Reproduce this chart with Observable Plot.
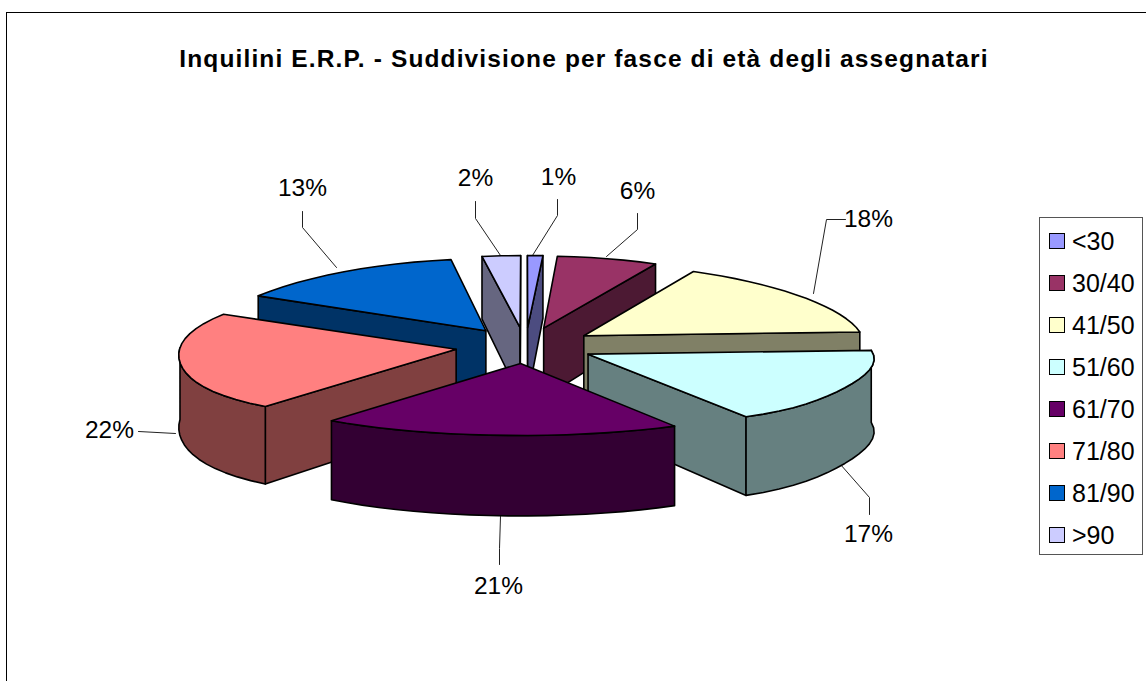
<!DOCTYPE html>
<html>
<head>
<meta charset="utf-8">
<script src="https://cdn.jsdelivr.net/npm/d3@7"></script>
<script src="https://cdn.jsdelivr.net/npm/@observablehq/plot@0.6"></script>
<style>
html,body{margin:0;padding:0;background:#fff;overflow:hidden}
#wrap{position:relative;width:1146px;height:681px;font-family:"Liberation Sans",Arial,sans-serif;color:#000}
#wrap svg{position:absolute;left:0;top:0}
#frame{position:absolute;left:6px;top:12px;width:1200px;height:800px;border:1.5px solid #000}
#title{position:absolute;left:0;top:43px;width:1168px;text-align:center;font-weight:bold;font-size:24.5px;letter-spacing:1.13px;line-height:32px;white-space:nowrap}
#legend{position:absolute;left:1039px;top:217px;width:102px;height:336px;border:1px solid #555;box-sizing:content-box}
.row{position:absolute;left:9px;height:24px;display:flex;align-items:center;font-size:25px;line-height:24px}
.sw{width:14px;height:14px;border:1.5px solid #000;margin-right:7px;flex:none}
</style>
</head>
<body>
<div id="wrap"><div id="frame"></div><div id="title"></div></div>
<script>
const titleText = "Inquilini E.R.P. - Suddivisione per fasce di età degli assegnatari";
const categories = ["<30","30/40","41/50","51/60","61/70","71/80","81/90",">90"];
const shares = [1,6,18,17,21,22,13,2];
const topColors = ["#9999FF","#993366","#FFFFCC","#CCFFFF","#660066","#FF8080","#0066CC","#CCCCFF"];
const wallColors = ["#4C4C80","#4C1933","#808066","#668080","#330033","#804040","#003366","#666680"];
const paintOrder = [7,0,1,6,2,5,3,4];

// label text position and leader route, per category
const labelX = [558,637,868,868,498,109,302,475];
const labelY = [177,191,219,534,586,430,188,178];
const leaders = [
  [[557,199],[557,215],[532,255]],
  [[637,213],[637,229],[606,256]],
  [[845,219],[826,219],[813,293]],
  [[869,514],[869,497],[840,464]],
  [[499,564],[499,548],[500,516]],
  [[138,431],[175,433]],
  [[302,211],[302,227],[336,267]],
  [[475,201],[475,218],[500,255]]
];

// 3-D projection of the exploded pie
const W = 1146, H = 681;
const cx = 525, cy = 345, R = 282, ry = 72, persp = 0.1, explode = 0.25, depth = 71.5;
const rad = d => d * Math.PI / 180;
// the reference's 3-D rendering bends the sweep of the slices slightly
const warp = d3.scaleLinear([0, 3.6, 25.2, 90, 151.2, 226.8, 306, 352.8, 360],
                            [0, 3.6, 27, 87, 150.5, 217.3, 299, 351, 360]);
// and its rim sags a little inside the two side slices
const sag = w => (w > 87 && w < 150.5) ? 0.03 * Math.sin(Math.PI * (w - 87) / 63.5) ** 2
               : (w > 217.3 && w < 299) ? 0.03 * Math.sin(Math.PI * (w - 217.3) / 81.7) ** 2 : 0;
const proj = (u, v, low) => {
  const k = 1 + persp * v;
  return {x: cx + u * R * k, y: cy + v * ry + (low ? depth * k : 0)};
};
const total = d3.sum(shares);
const cum = d3.cumsum(shares);
const slices = shares.map((s, i) => {
  const a0 = (cum[i] - s) / total * 360, a1 = cum[i] / total * 360, m = (a0 + a1) / 2;
  const wm = (warp(a0) + warp(a1)) / 2;
  const ox = explode * Math.sin(rad(wm)), oy = -explode * Math.cos(rad(wm));
  const pt = (a, r, low) => {
    const d = warp(a), w = rad(d), q = r * (1 - sag(d));
    return proj(ox + q * Math.sin(w), oy - q * Math.cos(w), low);
  };
  return {i, a0, a1, m, pt};
});
const polys = [];
let pid = 0;
const addPoly = (pts, fill) => { const id = pid++; pts.forEach(p => polys.push({id, x: p.x, y: p.y, fill})); polys.push({id, x: pts[0].x, y: pts[0].y, fill}); };
const arcAngles = (a0, a1) => { const n = Math.max(1, Math.ceil((a1 - a0) / 4)); return d3.range(n + 1).map(j => a0 + (a1 - a0) * j / n); };

for (const i of paintOrder) {
  const s = slices[i], top = topColors[i], wall = wallColors[i];
  const A = s.pt(0, 0), AL = s.pt(0, 0, true);
  const M = s.pt(s.m, 0.5);
  for (const a of [s.a0, s.a1]) {
    const P = s.pt(a, 1), PL = s.pt(a, 1, true);
    const ex = P.x - A.x, ey = P.y - A.y;
    const crossM = ex * (M.y - A.y) - ey * (M.x - A.x);
    const crossD = ex * 1;
    if (crossM * crossD < 0) addPoly([A, P, PL, AL], wall);
  }
  // outer wall: only the front half of the rim faces the viewer
  const lo = Math.max(s.a0, 90), hi = Math.min(s.a1, 279);
  if (lo < hi) {
    const as = arcAngles(lo, hi);
    addPoly([...as.map(a => s.pt(a, 1)), ...as.slice().reverse().map(a => s.pt(a, 1, true))], wall);
  }
  addPoly([A, ...arcAngles(s.a0, s.a1).map(a => s.pt(a, 1))], top);
}

const labels = categories.map((c, i) => ({x: labelX[i], y: labelY[i], t: shares[i] + "%"}));
const leaderPts = leaders.flatMap((l, i) => l.map(p => ({i, x: p[0], y: p[1]})));

const chart = Plot.plot({
  width: W, height: H, margin: 0,
  x: {domain: [0, W], range: [0, W], axis: null},
  y: {domain: [0, H], range: [0, H], axis: null},
  style: {background: "transparent", fontFamily: '"Liberation Sans",Arial,sans-serif'},
  marks: [
    Plot.line(leaderPts, {x: "x", y: "y", z: "i", stroke: "#222", strokeWidth: 1, curve: "linear"}),
    Plot.line(polys, {x: "x", y: "y", z: "id", fill: "fill", stroke: "#000", strokeWidth: 1.6, strokeLinejoin: "round", curve: "linear"}),
    Plot.text(labels, {x: "x", y: "y", text: "t", fontSize: 24.5, fill: "#000"})
  ]
});
const wrap = document.getElementById("wrap");
wrap.appendChild(chart);
document.getElementById("title").textContent = titleText;
const legend = document.createElement("div");
legend.id = "legend";
categories.forEach((c, i) => {
  const row = document.createElement("div");
  row.className = "row";
  row.style.top = (10.5 + i * 42.1) + "px";
  const sw = document.createElement("span");
  sw.className = "sw"; sw.style.background = topColors[i];
  row.appendChild(sw);
  row.appendChild(document.createTextNode(c));
  legend.appendChild(row);
});
wrap.appendChild(legend);
</script>
</body>
</html>
